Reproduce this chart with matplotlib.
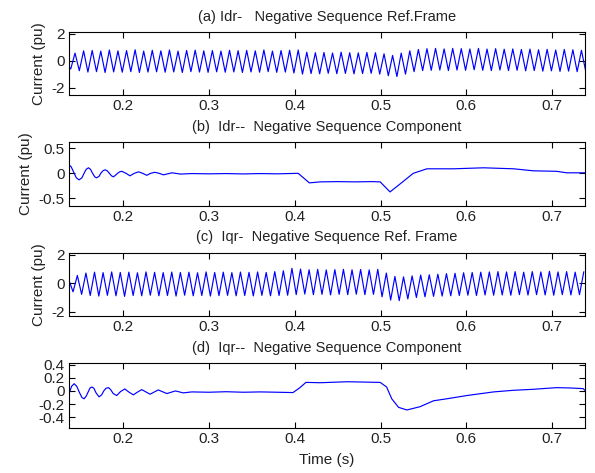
import numpy as np
import matplotlib
matplotlib.use('Agg')
import matplotlib.pyplot as plt

plt.rcParams['font.family'] = ['Liberation Sans', 'DejaVu Sans']

# (a) Idr- in negative sequence ref. frame : one peak / trough per 100 Hz cycle
a_start_t = [0.137, 0.139]
a_start_v = [-0.45, -0.62]
a_peak_t0 = 0.144
a_peak = [0.55, 0.72, 0.75, 0.70, 0.78, 0.72, 0.74, 0.80, 0.70, 0.76,
          0.72, 0.78, 0.70, 0.75, 0.77, 0.72, 0.74, 0.70, 0.76, 0.73,
          0.75, 0.72, 0.78, 0.70, 0.74, 0.76,
          0.78, 0.62, 0.58, 0.60, 0.56, 0.62, 0.58, 0.57, 0.60, 0.58,
          0.50, 0.38, 0.55, 0.72, 0.82,
          0.88, 0.90, 0.86, 0.90, 0.88, 0.86, 0.90, 0.85, 0.88,
          0.84, 0.86, 0.82, 0.85, 0.80, 0.83, 0.78, 0.82, 0.80, 0.76]
a_trough = [-0.75, -0.85, -0.82, -0.88, -0.84, -0.86, -0.82, -0.88, -0.85, -0.83,
            -0.86, -0.84, -0.88, -0.82, -0.85, -0.87, -0.83, -0.86, -0.84, -0.88,
            -0.84, -0.86, -0.82, -0.87, -0.85, -0.92,
            -1.00, -0.96, -0.98, -0.94, -0.97, -0.95, -0.98, -0.96, -0.94, -1.00,
            -1.12, -1.18, -1.00, -0.82, -0.74,
            -0.72, -0.70, -0.74, -0.70, -0.72, -0.68, -0.72, -0.74, -0.70,
            -0.74, -0.72, -0.76, -0.74, -0.78, -0.76, -0.80, -0.78, -0.82, -0.80]

# (b) Idr-- negative sequence component
b_t = [0.137, 0.1395, 0.1425, 0.1455, 0.1487, 0.152, 0.1545, 0.157, 0.1596, 0.162,
       0.1645, 0.167, 0.169, 0.172, 0.174, 0.1765, 0.179, 0.1815, 0.184, 0.1865,
       0.1887, 0.191, 0.1935, 0.196, 0.1985, 0.2035, 0.208, 0.213, 0.218, 0.2228,
       0.2276, 0.232, 0.237, 0.242, 0.247, 0.257, 0.267, 0.28, 0.30, 0.32,
       0.34, 0.36, 0.38, 0.404, 0.417, 0.43, 0.45, 0.47, 0.49, 0.4995,
       0.511, 0.525, 0.538, 0.554, 0.585, 0.62, 0.655, 0.678, 0.705, 0.717,
       0.738]
b_v = [0.17, 0.13, 0.02, -0.09, -0.13, -0.09, 0.0, 0.08, 0.11, 0.08,
       0.0, -0.07, -0.09, -0.06, 0.0, 0.05, 0.07, 0.05, 0.0, -0.05,
       -0.07, -0.04, 0.0, 0.03, 0.04, 0.0, -0.05, 0.0, 0.03, 0.0,
       -0.04, 0.0, 0.02, 0.0, -0.03, 0.01, -0.015, -0.005, -0.01, -0.005,
       -0.012, -0.005, -0.01, 0.0, -0.19, -0.17, -0.165, -0.17, -0.165, -0.17,
       -0.37, -0.18, 0.0, 0.09, 0.09, 0.11, 0.09, 0.05, 0.04, 0.01,
       0.01]

# (c) Iqr- in negative sequence ref. frame
c_start_t = [0.137]
c_start_v = [0.2]
c_trough_t0 = 0.1417
c_trough = [-0.60, -0.78, -0.86, -0.90, -0.85, -0.88, -0.92, -0.86, -0.88, -0.84,
            -0.88, -0.86, -0.90, -0.84, -0.88, -0.86, -0.90, -0.87, -0.85, -0.88,
            -0.86, -0.89, -0.85, -0.88, -0.86, -0.84,
            -0.80, -0.76, -0.80, -0.78, -0.82, -0.78, -0.80, -0.77, -0.80, -0.78,
            -0.95, -1.18, -1.22, -1.10, -1.00,
            -0.95, -0.92, -0.90, -0.88, -0.86, -0.84, -0.86, -0.82, -0.84,
            -0.82, -0.84, -0.80, -0.83, -0.80, -0.82, -0.84, -0.80, -0.82, -0.80]
c_peak = [0.55, 0.72, 0.78, 0.75, 0.80, 0.76, 0.78, 0.74, 0.80, 0.77,
          0.75, 0.79, 0.76, 0.78, 0.74, 0.80, 0.76, 0.78, 0.75, 0.79,
          0.77, 0.80, 0.76, 0.82, 0.88, 1.05,
          1.00, 0.95, 0.98, 0.94, 0.96, 0.98, 0.95, 0.97, 0.94, 0.98,
          0.72, 0.48, 0.45, 0.52, 0.58,
          0.60, 0.64, 0.68, 0.70, 0.74, 0.76, 0.78, 0.80, 0.82,
          0.80, 0.82, 0.78, 0.82, 0.80, 0.84, 0.80, 0.82, 0.78, 0.80]

# (d) Iqr-- negative sequence component
d_t = [0.137, 0.140, 0.143, 0.146, 0.149, 0.152, 0.1545, 0.157, 0.1595, 0.1615,
       0.1636, 0.166, 0.1685, 0.172, 0.175, 0.1775, 0.180, 0.183, 0.1855, 0.1885,
       0.1926, 0.197, 0.202, 0.207, 0.212, 0.2165, 0.2217, 0.2314, 0.241, 0.251,
       0.261, 0.270, 0.28, 0.30, 0.32, 0.34, 0.36, 0.38, 0.398, 0.406,
       0.413, 0.43, 0.461, 0.48, 0.4995, 0.507, 0.513, 0.5209, 0.5306, 0.546,
       0.5617, 0.577, 0.6006, 0.6316, 0.655, 0.678, 0.705, 0.721, 0.736, 0.738]
d_v = [-0.04, 0.07, 0.11, 0.07, -0.02, -0.10, -0.12, -0.08, -0.01, 0.045,
       0.06, 0.04, -0.03, -0.09, -0.06, 0.0, 0.04, 0.05, 0.02, -0.04,
       -0.07, -0.01, 0.03, -0.02, -0.06, -0.02, 0.02, -0.05, 0.015, -0.04,
       0.0, -0.03, -0.015, -0.02, -0.012, -0.02, -0.015, -0.02, -0.025, 0.05,
       0.13, 0.125, 0.14, 0.135, 0.13, 0.06, -0.12, -0.25, -0.29, -0.24,
       -0.15, -0.12, -0.07, -0.015, 0.01, 0.025, 0.05, 0.045, 0.035, 0.01]

titles = ['(a) Idr-   Negative Sequence Ref.Frame',
          '(b)  Idr--  Negative Sequence Component',
          '(c)  Iqr-  Negative Sequence Ref. Frame',
          '(d)  Iqr--  Negative Sequence Component']
period = 0.01


def interleave(t0, first, second, half):
    # first value at t0, second half a period later, repeated every cycle
    n = len(first)
    t = np.empty(2 * n)
    v = np.empty(2 * n)
    t[0::2] = t0 + period * np.arange(n)
    t[1::2] = t0 + half + period * np.arange(n)
    v[0::2] = first
    v[1::2] = second
    return t, v


ta, va = interleave(a_peak_t0, a_peak, a_trough, period / 2)
ta = np.concatenate([a_start_t, ta])
va = np.concatenate([a_start_v, va])
tc, vc = interleave(c_trough_t0, c_trough, c_peak, period / 2)
tc = np.concatenate([c_start_t, tc])
vc = np.concatenate([c_start_v, vc])

series = [(ta, va), (b_t, b_v), (tc, vc), (d_t, d_v)]
ylims = [(-2.55, 2.1), (-0.65, 0.63), (-2.3, 2.16), (-0.56, 0.42)]
yticks = [[-2, 0, 2], [-0.5, 0, 0.5], [-2, 0, 2], [-0.4, -0.2, 0, 0.2, 0.4]]
ytlabels = [['-2', '0', '2'], ['-0.5', '0', '0.5'], ['-2', '0', '2'],
            ['-0.4', '-0.2', '0', '0.2', '0.4']]
boxes = [[0.116, 0.799, 0.867, 0.133],
         [0.116, 0.5645, 0.867, 0.136],
         [0.116, 0.332, 0.867, 0.134],
         [0.116, 0.0958, 0.867, 0.136]]

fig = plt.figure(figsize=(5.95, 4.73), dpi=100)
for i in range(4):
    ax = fig.add_axes(boxes[i])
    x, y = series[i]
    ax.plot(x, y, color='#0000ff', lw=0.85)
    ax.set_xlim(0.137, 0.738)
    ax.set_ylim(*ylims[i])
    ax.set_xticks([0.2, 0.3, 0.4, 0.5, 0.6, 0.7])
    ax.set_xticklabels(['0.2', '0.3', '0.4', '0.5', '0.6', '0.7'])
    ax.set_yticks(yticks[i])
    ax.set_yticklabels(ytlabels[i])
    ax.tick_params(direction='in', top=True, right=True, length=4, width=0.8,
                   labelsize=11, pad=3, labelcolor='#222222')
    for s in ax.spines.values():
        s.set_linewidth(0.8)
    ax.set_title(titles[i], fontsize=10.5, pad=8, color='#222222')
    if i < 3:
        ax.set_ylabel('Current (pu)', fontsize=11, labelpad=4, color='#222222')
    else:
        ax.set_xlabel('Time (s)', fontsize=11, labelpad=5, color='#222222')

fig.savefig('out.png', dpi=100, facecolor='white')
